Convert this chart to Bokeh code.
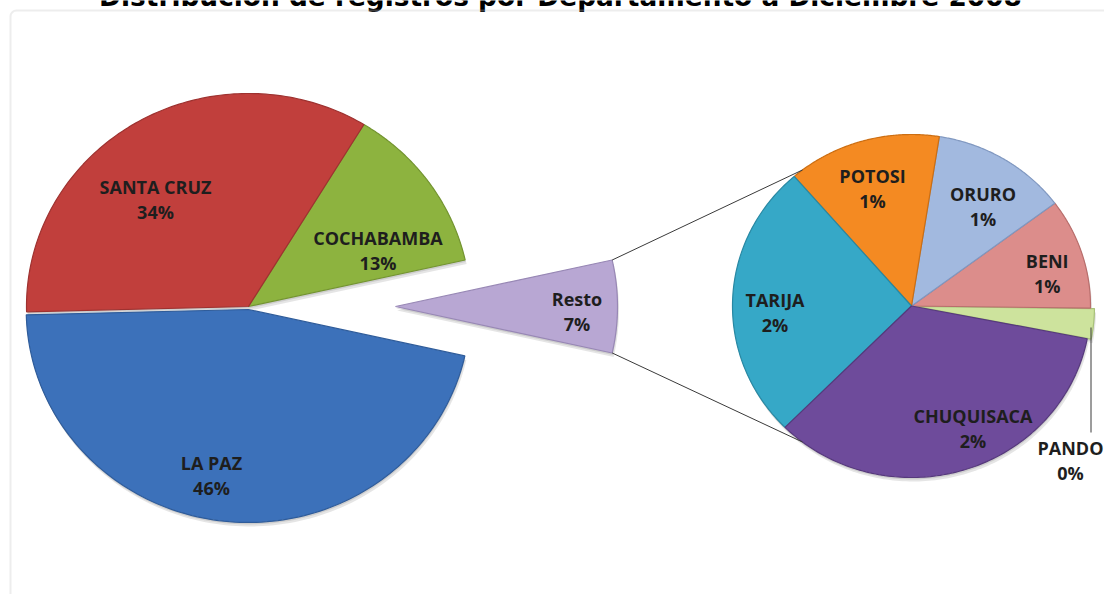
import numpy as np
from bokeh.plotting import figure
from bokeh.models import Range1d, BoxAnnotation, ColumnDataSource
from bokeh.embed import file_html
from bokeh.resources import INLINE
from bokeh.core.properties import value

# ---------------- data ----------------
title_text = "Distribución de registros por Departamento a Diciembre 2008"
main_labels = ["LA PAZ", "SANTA CRUZ", "COCHABAMBA", "Resto"]
main_values = [46.1, 34.1, 12.8, 7.0]
sub_labels = ["PANDO", "BENI", "ORURO", "POTOSI", "TARIJA", "CHUQUISACA"]
sub_values = [0.20, 0.73, 0.86, 0.97, 1.83, 2.41]

# ---------------- style / layout ----------------
W, H = 1104, 594
main_colors = ["#3C71BA", "#C13F3C", "#8DB33F", "#B8A7D3"]
main_lines = ["#2F5C9A", "#9E3230", "#739430", "#9888B5"]
sub_colors = ["#CDE39D", "#DC8D8B", "#A2B9DF", "#F48A22", "#36A8C7", "#6E4B9B"]
sub_lines = ["#A9C27A", "#B86E6C", "#8098C0", "#CC6E12", "#2888A3", "#56397C"]

MAIN_C = (248, 306)       # pixel coords (y from top)
MAIN_R = (222, 213)
MAIN_EXPLODE = {"LA PAZ": 3, "Resto": 147}
SUB_C = (911, 305.5)
SUB_R = (179, 171.5)
SUB_START = -11.0
SUB_EXPLODE = {"PANDO": 4}
CONNECT_ANGLE = 127.5

main_label_pos = {"LA PAZ": (211, 475), "SANTA CRUZ": (155, 198.5),
                  "COCHABAMBA": (377.5, 249.7), "Resto": (576.5, 310.8)}
sub_label_pos = {"PANDO": (1070, 460), "BENI": (1046.7, 272.5),
                 "ORURO": (982.5, 206.3), "POTOSI": (872, 188.3),
                 "TARIJA": (774.5, 312), "CHUQUISACA": (972.5, 428.3)}
LINE_GAP = 12.5
FONT = value("Open Sans")
LABEL_SIZE = "18px"


def Y(py):
    return H - py


def wedge(cx, cy, rx, ry, a0, a1, off):
    mid = np.radians((a0 + a1) / 2)
    ox, oy = off * np.cos(mid), off * np.sin(mid)
    t = np.radians(np.linspace(a0, a1, 120))
    xs = np.concatenate([[cx + ox], cx + ox + rx * np.cos(t), [cx + ox]])
    ys = np.concatenate([[cy + oy], cy + oy + ry * np.sin(t), [cy + oy]])
    return list(xs), list(ys)


p = figure(width=W, height=H, x_range=Range1d(0, W), y_range=Range1d(0, H),
           output_backend="svg", toolbar_location=None, min_border=0,
           x_axis_type=None, y_axis_type=None)
p.grid.visible = False
p.outline_line_color = None
p.background_fill_color = "white"
p.border_fill_color = "white"

# border frame
p.add_layout(BoxAnnotation(left=10, right=W + 40, top=Y(10), bottom=-40,
                           fill_alpha=0, line_color="#C4C4C4", line_width=2,
                           border_radius=6))

# title (cut at top as in the source)
p.text(x=[560], y=[Y(-4)], text=[title_text], text_font=value("DejaVu Sans"),
       text_font_style="bold", text_font_size="26.4px", text_align="center",
       text_baseline="alphabetic", text_color="black")

# ---- main pie ----
total = sum(main_values)
mcx, mcy = MAIN_C[0], Y(MAIN_C[1])
resto_ang = main_values[-1] / total * 360
a = -resto_ang / 2
mx, my, mfill, mline = [], [], [], []
main_geom = {}
for lab, v, fc, lc in reversed(list(zip(main_labels, main_values, main_colors, main_lines))):
    span = v / total * 360
    xs, ys = wedge(mcx, mcy, MAIN_R[0], MAIN_R[1], a, a + span, MAIN_EXPLODE.get(lab, 0))
    main_geom[lab] = (a, a + span)
    mx.append(xs); my.append(ys); mfill.append(fc); mline.append(lc)
    a += span

# ---- sub pie ----
stotal = sum(sub_values)
scx, scy = SUB_C[0], Y(SUB_C[1])
a = SUB_START
sx, sy, sfill, sline = [], [], [], []
for lab, v, fc, lc in zip(sub_labels, sub_values, sub_colors, sub_lines):
    span = v / stotal * 360
    xs, ys = wedge(scx, scy, SUB_R[0], SUB_R[1], a, a + span, SUB_EXPLODE.get(lab, 0))
    sx.append(xs); sy.append(ys); sfill.append(fc); sline.append(lc)
    a += span

# shadows
allx = mx + sx
ally = my + sy
p.patches([[x + 1.5 for x in xs] for xs in allx], [[y - 4 for y in ys] for ys in ally],
          fill_color="#000000", fill_alpha=0.10, line_color=None)
p.patches([[x + 0.5 for x in xs] for xs in allx], [[y - 2 for y in ys] for ys in ally],
          fill_color="#000000", fill_alpha=0.10, line_color=None)

p.patches(xs="xs", ys="ys", fill_color="fc", line_color="lc", line_width=1.2,
          source=ColumnDataSource(dict(xs=mx, ys=my, fc=mfill, lc=mline)))
p.patches(xs="xs", ys="ys", fill_color="fc", line_color="lc", line_width=1.2,
          source=ColumnDataSource(dict(xs=sx, ys=sy, fc=sfill, lc=sline)))

# connector lines from Resto slice to second pie
r0, r1 = main_geom["Resto"]
rox = mcx + MAIN_EXPLODE["Resto"]
ends_main = [(rox + MAIN_R[0] * np.cos(np.radians(r1)), mcy + MAIN_R[1] * np.sin(np.radians(r1))),
             (rox + MAIN_R[0] * np.cos(np.radians(r0)), mcy + MAIN_R[1] * np.sin(np.radians(r0)))]
ends_sub = [(scx + SUB_R[0] * np.cos(np.radians(CONNECT_ANGLE)), scy + SUB_R[1] * np.sin(np.radians(CONNECT_ANGLE))),
            (scx + SUB_R[0] * np.cos(np.radians(-CONNECT_ANGLE)), scy + SUB_R[1] * np.sin(np.radians(-CONNECT_ANGLE)))]
p.segment(x0=[e[0] for e in ends_main], y0=[e[1] for e in ends_main],
          x1=[e[0] for e in ends_sub], y1=[e[1] for e in ends_sub],
          line_color="#3A3A3A", line_width=1)

# PANDO leader line
p.segment(x0=[1090.5], y0=[Y(327)], x1=[1090.5], y1=[Y(432)], line_color="#3A3A3A", line_width=1)

# labels
lx, ly, lt = [], [], []
for lab, v in zip(main_labels, main_values):
    cx, cy = main_label_pos[lab]
    lx += [cx, cx]; ly += [Y(cy - LINE_GAP), Y(cy + LINE_GAP)]
    lt += [lab, f"{round(v / total * 100)}%"]
for lab, v in zip(sub_labels, sub_values):
    cx, cy = sub_label_pos[lab]
    lx += [cx, cx]; ly += [Y(cy - LINE_GAP), Y(cy + LINE_GAP)]
    lt += [lab, f"{round(v / total * 100)}%"]
p.text(x=lx, y=ly, text=lt, text_font=FONT, text_font_style="bold",
       text_font_size=LABEL_SIZE, text_align="center", text_baseline="middle",
       text_color="#1E1E1E")

open("out.html", "w").write(file_html(p, INLINE))
